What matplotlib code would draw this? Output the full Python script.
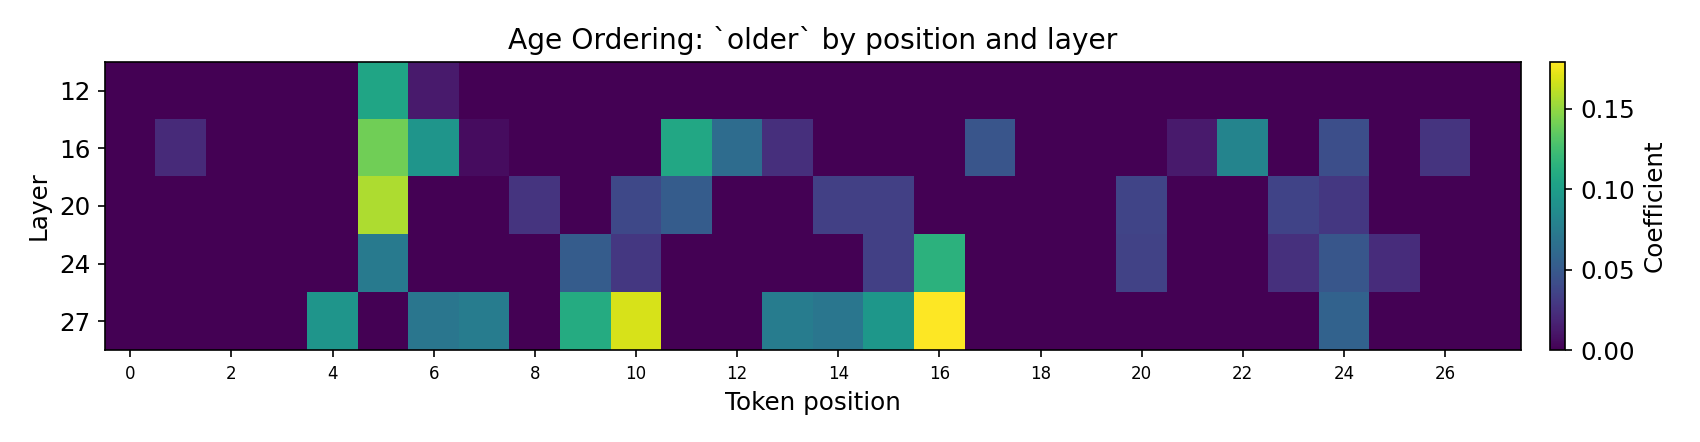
import numpy as np
import matplotlib
matplotlib.use("Agg")
import matplotlib.pyplot as plt

# layers shown on the y axis
layers = [12, 16, 20, 24, 27]
positions = list(range(28))

# coefficient per (layer, token position)
row_12 = [0, 0, 0, 0, 0, 0.105, 0.013, 0, 0, 0, 0, 0, 0, 0,
          0, 0, 0, 0, 0, 0, 0, 0, 0, 0, 0, 0, 0, 0]
row_16 = [0, 0.021, 0, 0, 0, 0.140, 0.093, 0.006, 0, 0, 0, 0.107, 0.063, 0.024,
          0, 0, 0, 0.047, 0, 0, 0, 0.013, 0.081, 0, 0.043, 0, 0.027, 0]
row_20 = [0, 0, 0, 0, 0, 0.157, 0, 0, 0.027, 0, 0.039, 0.052, 0, 0,
          0.034, 0.034, 0, 0, 0, 0, 0.037, 0, 0, 0.036, 0.029, 0, 0, 0]
row_24 = [0, 0, 0, 0, 0, 0.073, 0, 0, 0, 0.052, 0.029, 0, 0, 0,
          0, 0.034, 0.115, 0, 0, 0, 0.035, 0, 0, 0.025, 0.048, 0.023, 0, 0]
row_27 = [0, 0, 0, 0, 0.093, 0, 0.070, 0.075, 0, 0.110, 0.168, 0, 0, 0.075,
          0.070, 0.095, 0.179, 0, 0, 0, 0, 0, 0, 0, 0.056, 0, 0, 0]

data = np.array([row_12, row_16, row_20, row_24, row_27])

fig = plt.figure(figsize=(1700/150, 442/150), dpi=150)
ax = fig.add_axes([0.0618, 0.208, 0.8329, 0.652])
cax = fig.add_axes([0.912, 0.208, 0.0088, 0.652])

im = ax.imshow(data, aspect='auto', cmap='viridis', vmin=0, vmax=data.max(),
               interpolation='nearest')

ax.set_yticks(range(len(layers)))
ax.set_yticklabels(layers, fontsize=11.8)
ax.set_xticks(positions[::2])
ax.set_xticklabels(positions[::2], fontsize=8)
ax.set_xlabel('Token position', fontsize=11.8)
ax.set_ylabel('Layer', fontsize=11.8)
ax.set_title('Age Ordering: `older` by position and layer', fontsize=13.5)

cb = fig.colorbar(im, cax=cax)
cb.set_label('Coefficient', fontsize=11.8)
cb.ax.tick_params(labelsize=11.8)

fig.savefig('out.png', dpi=150)
